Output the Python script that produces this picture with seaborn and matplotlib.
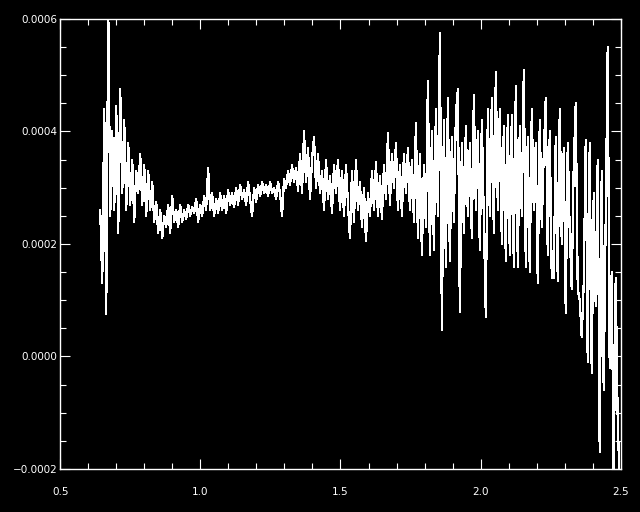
import numpy as np
import pandas as pd
import seaborn as sns
import matplotlib.pyplot as plt
from matplotlib.ticker import MultipleLocator, FuncFormatter

# spectrum, flux in units of 1e-4
wave_start = 0.643
wave_end = 2.496
flux_e4 = [
    2.6, 1.3, 4.4, 0.75, 6.2, 2.5, 4.0, 2.6, 4.45, 2.2,
    4.75, 2.9, 4.2, 2.6, 3.8, 2.7, 3.5, 2.4, 3.3, 2.9,
    3.6, 2.7, 3.4, 2.5, 3.3, 2.6, 3.1, 2.4, 2.75, 2.2,
    2.6, 2.1, 2.5, 2.3, 2.7, 2.2, 2.85, 2.4, 2.6, 2.3,
    2.7, 2.4, 2.6, 2.45, 2.7, 2.5, 2.65, 2.55, 2.8, 2.4,
    2.7, 2.5, 2.85, 2.6, 3.35, 2.6, 2.9, 2.5, 2.8, 2.55,
    2.9, 2.6, 2.85, 2.55, 2.95, 2.7, 2.9, 2.65, 3.0, 2.7,
    3.05, 2.8, 2.95, 2.7, 3.1, 2.8, 2.5, 3.0, 2.75, 3.05,
    2.85, 3.1, 2.9, 3.05, 2.85, 3.1, 2.9, 3.0, 2.8, 3.1,
    2.9, 2.5, 3.15, 3.0, 3.3, 3.05, 3.4, 3.1, 3.35, 2.95,
    3.6, 2.9, 4.0, 3.1, 3.7, 2.8, 3.5, 3.9, 3.0, 3.6,
    2.9, 3.3, 2.6, 3.5, 2.8, 3.2, 2.55, 3.4, 2.9, 3.5,
    2.6, 3.3, 2.5, 3.4, 2.7, 2.1, 3.3, 2.4, 3.5, 2.6,
    3.1, 2.3, 3.0, 2.05, 2.9, 2.5, 3.3, 2.6, 3.45, 2.5,
    3.2, 2.45, 3.4, 2.8, 3.97, 2.7, 3.6, 3.0, 3.8, 2.6,
    3.4, 2.5, 3.6, 2.9, 3.7, 2.6, 3.5, 2.4, 4.15, 2.1,
    3.6, 1.8, 3.4, 2.3, 4.9, 1.8, 4.0, 1.9, 4.4, 2.5,
    5.75, 0.47, 4.2, 1.6, 4.6, 1.7, 3.9, 2.4, 4.3, 4.75,
    0.8, 3.8, 2.2, 4.1, 2.5, 3.8, 2.1, 4.65, 2.6, 4.0,
    1.9, 4.2, 2.4, 0.7, 4.4, 2.5, 4.6, 2.2, 5.05, 2.6,
    4.4, 2.0, 4.1, 1.7, 4.3, 1.8, 4.3, 1.6, 4.8, 1.6,
    4.1, 2.5, 5.1, 1.6, 3.9, 1.5, 4.4, 2.6, 3.8, 1.3,
    4.2, 2.3, 3.6, 4.6, 1.8, 4.0, 1.4, 1.4, 3.9, 1.35,
    4.4, 2.0, 3.7, 0.77, 3.8, 2.2, 1.2, 3.4, 4.5, 1.2,
    1.0, 0.35, 1.3, 3.85, -0.1, 3.8, -0.3, 2.9, 0.9, 3.5,
    -1.7, 3.3, -0.6, 2.4, 5.5, -0.2, 1.5, -2.2, 1.4, -1.1,
    -2.3,
]

flux = np.array(flux_e4) * 1e-4
wave = np.linspace(wave_start, wave_end, len(flux))
df = pd.DataFrame({"wave": wave, "flux": flux})

sns.set_style("dark", {"axes.facecolor": "black", "figure.facecolor": "black"})
plt.rcParams["font.family"] = ["DejaVu Sans"]

fig = plt.figure(figsize=(6.4, 5.12), dpi=100)
ax = fig.add_axes([0.094, 0.084, 0.876, 0.879])

sns.lineplot(data=df, x="wave", y="flux", color="white", linewidth=0.9,
             estimator=None, sort=False, antialiased=False, ax=ax)

ax.set_xlim(0.5, 2.5)
ax.set_ylim(-0.0002, 0.0006)
ax.set_xlabel("")
ax.set_ylabel("")
ax.grid(False)

ax.xaxis.set_major_locator(MultipleLocator(0.5))
ax.xaxis.set_minor_locator(MultipleLocator(0.1))
ax.yaxis.set_major_locator(MultipleLocator(0.0002))
ax.yaxis.set_minor_locator(MultipleLocator(0.00005))
ax.xaxis.set_major_formatter(FuncFormatter(lambda v, p: f"{v:.1f}"))
ax.yaxis.set_major_formatter(
    FuncFormatter(lambda v, p: f"{v:.4f}".replace("-", "\u2212")))

for side in ["left", "right", "top", "bottom"]:
    ax.spines[side].set_color("white")
    ax.spines[side].set_linewidth(1.0)
    ax.spines[side].set_visible(True)

ax.tick_params(which="both", direction="in", colors="white",
               top=True, right=True, bottom=True, left=True, labelsize=7.5)
ax.tick_params(which="major", length=7, width=0.8)
ax.tick_params(which="minor", length=4.5, width=0.8)
ax.tick_params(axis="x", which="major", pad=13)
ax.tick_params(axis="y", which="major", pad=2)

plt.savefig("out.png", dpi=100, facecolor="black")
plt.close()
